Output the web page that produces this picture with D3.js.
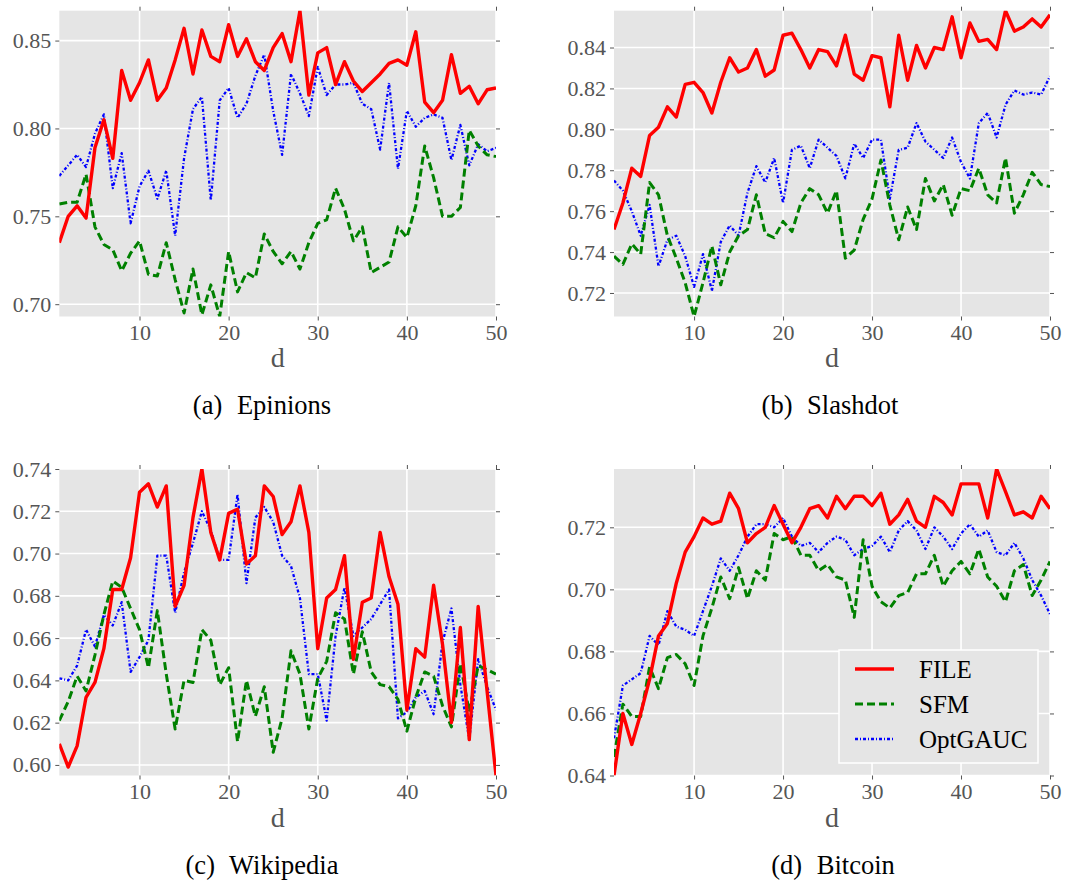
<!DOCTYPE html>
<html>
<head>
<meta charset="utf-8">
<script src="https://cdn.jsdelivr.net/npm/d3@7"></script>
<style>
  html, body { margin: 0; padding: 0; background: #ffffff; }
  svg { display: block; }
</style>
</head>
<body>
<svg id="chart" width="1068" height="881"></svg>
<script>
// Embedding dimension d on the x axis
const dValues = [1,2,3,4,5,6,7,8,9,10,11,12,13,14,15,16,17,18,19,20,21,22,23,24,25,
                 26,27,28,29,30,31,32,33,34,35,36,37,38,39,40,41,42,43,44,45,46,47,48,49,50];
const xTicks = [10, 20, 30, 40, 50];

const methods = ["FILE", "SFM", "OptGAUC"];

// (a) Epinions
const epinionsFILE = [0.735,0.750,0.756,0.749,0.789,0.805,0.783,0.833,0.816,0.826,0.839,0.816,0.823,0.839,0.857,0.831,0.856,0.841,0.838,0.859,0.841,0.851,0.838,0.833,0.846,0.854,0.838,0.867,0.819,0.843,0.846,0.825,0.838,0.827,0.821,0.826,0.831,0.837,0.839,0.836,0.855,0.815,0.809,0.816,0.842,0.820,0.824,0.814,0.822,0.823];
const epinionsSFM = [0.757,0.758,0.758,0.774,0.744,0.734,0.731,0.719,0.729,0.736,0.717,0.716,0.735,0.714,0.695,0.720,0.694,0.711,0.693,0.730,0.707,0.718,0.715,0.740,0.730,0.723,0.730,0.720,0.735,0.746,0.748,0.766,0.754,0.736,0.744,0.718,0.721,0.724,0.744,0.738,0.756,0.790,0.772,0.750,0.750,0.755,0.799,0.790,0.785,0.784];
const epinionsOptGAUC = [0.773,0.779,0.785,0.778,0.797,0.808,0.766,0.786,0.746,0.767,0.776,0.760,0.776,0.739,0.783,0.811,0.818,0.759,0.816,0.823,0.806,0.814,0.830,0.842,0.810,0.785,0.831,0.820,0.807,0.835,0.819,0.825,0.825,0.826,0.814,0.811,0.788,0.826,0.777,0.810,0.801,0.806,0.808,0.806,0.782,0.802,0.779,0.791,0.787,0.789];
const epinionsTicks = [0.70, 0.75, 0.80, 0.85];

// (b) Slashdot
const slashdotFILE = [0.751,0.764,0.781,0.777,0.797,0.801,0.811,0.806,0.822,0.823,0.818,0.808,0.823,0.835,0.828,0.830,0.839,0.826,0.829,0.846,0.847,0.839,0.830,0.839,0.838,0.831,0.846,0.827,0.824,0.836,0.835,0.811,0.846,0.824,0.841,0.830,0.840,0.839,0.855,0.835,0.852,0.843,0.844,0.839,0.858,0.848,0.850,0.854,0.850,0.856];
const slashdotSFM = [0.738,0.734,0.744,0.739,0.774,0.768,0.748,0.737,0.725,0.7085,0.725,0.743,0.724,0.740,0.748,0.751,0.768,0.749,0.747,0.755,0.750,0.764,0.771,0.768,0.759,0.770,0.737,0.741,0.756,0.766,0.785,0.763,0.746,0.762,0.751,0.776,0.765,0.773,0.758,0.771,0.770,0.781,0.768,0.764,0.786,0.759,0.768,0.779,0.773,0.772];
const slashdotOptGAUC = [0.775,0.770,0.760,0.748,0.763,0.733,0.746,0.748,0.738,0.723,0.739,0.721,0.745,0.753,0.748,0.769,0.782,0.774,0.786,0.764,0.790,0.792,0.781,0.795,0.791,0.787,0.776,0.793,0.786,0.795,0.795,0.766,0.790,0.791,0.803,0.794,0.790,0.786,0.796,0.784,0.776,0.803,0.808,0.796,0.812,0.819,0.817,0.818,0.817,0.826];
const slashdotTicks = [0.72, 0.74, 0.76, 0.78, 0.80, 0.82, 0.84];

// (c) Wikipedia
const wikipediaFILE = [0.610,0.599,0.609,0.632,0.639,0.655,0.683,0.683,0.698,0.729,0.733,0.722,0.732,0.675,0.685,0.717,0.740,0.710,0.697,0.719,0.721,0.695,0.699,0.732,0.727,0.709,0.715,0.732,0.710,0.655,0.679,0.683,0.699,0.650,0.677,0.679,0.710,0.689,0.676,0.626,0.655,0.651,0.685,0.657,0.620,0.665,0.612,0.675,0.635,0.595];
const wikipediaSFM = [0.621,0.630,0.642,0.635,0.652,0.671,0.687,0.684,0.674,0.664,0.646,0.673,0.643,0.617,0.640,0.639,0.664,0.659,0.638,0.646,0.611,0.640,0.623,0.637,0.606,0.622,0.654,0.643,0.617,0.641,0.649,0.672,0.669,0.643,0.663,0.644,0.638,0.637,0.631,0.616,0.632,0.644,0.642,0.628,0.618,0.648,0.625,0.647,0.645,0.643];
const wikipediaOptGAUC = [0.641,0.640,0.647,0.664,0.656,0.671,0.666,0.677,0.644,0.651,0.659,0.699,0.699,0.672,0.691,0.705,0.720,0.711,0.697,0.697,0.728,0.686,0.717,0.722,0.715,0.699,0.694,0.679,0.643,0.643,0.621,0.661,0.684,0.661,0.665,0.669,0.676,0.683,0.622,0.625,0.632,0.635,0.624,0.658,0.674,0.638,0.612,0.650,0.637,0.626];
const wikipediaTicks = [0.60, 0.62, 0.64, 0.66, 0.68, 0.70, 0.72, 0.74];

// (d) Bitcoin
const bitcoinFILE = [0.640,0.660,0.650,0.660,0.671,0.685,0.689,0.702,0.712,0.717,0.723,0.721,0.722,0.731,0.726,0.715,0.718,0.720,0.727,0.721,0.715,0.720,0.726,0.727,0.723,0.730,0.726,0.730,0.730,0.727,0.731,0.721,0.724,0.729,0.722,0.720,0.730,0.728,0.724,0.734,0.734,0.734,0.723,0.7388,0.7315,0.724,0.725,0.723,0.730,0.726];
const bitcoinSFM = [0.646,0.663,0.659,0.659,0.675,0.668,0.678,0.679,0.676,0.669,0.685,0.694,0.704,0.697,0.707,0.697,0.706,0.703,0.718,0.716,0.717,0.711,0.711,0.706,0.708,0.704,0.703,0.691,0.716,0.701,0.696,0.694,0.698,0.699,0.705,0.705,0.711,0.701,0.706,0.709,0.705,0.713,0.704,0.701,0.696,0.706,0.708,0.698,0.703,0.709];
const bitcoinOptGAUC = [0.652,0.669,0.671,0.673,0.685,0.682,0.693,0.688,0.687,0.685,0.693,0.701,0.710,0.706,0.711,0.717,0.721,0.721,0.720,0.723,0.717,0.714,0.715,0.712,0.715,0.717,0.716,0.711,0.713,0.714,0.717,0.712,0.719,0.722,0.719,0.713,0.720,0.717,0.713,0.718,0.721,0.717,0.719,0.712,0.711,0.715,0.710,0.703,0.698,0.692];
const bitcoinTicks = [0.64, 0.66, 0.68, 0.70, 0.72];

const datasetLabels = ["(a)", "(b)", "(c)", "(d)"];
const datasetNames = ["Epinions", "Slashdot", "Wikipedia", "Bitcoin"];

// ---------------------------------------------------------------------------
const panels = [
  { series: [epinionsFILE, epinionsSFM, epinionsOptGAUC], ticks: epinionsTicks },
  { series: [slashdotFILE, slashdotSFM, slashdotOptGAUC], ticks: slashdotTicks },
  { series: [wikipediaFILE, wikipediaSFM, wikipediaOptGAUC], ticks: wikipediaTicks },
  { series: [bitcoinFILE, bitcoinSFM, bitcoinOptGAUC], ticks: bitcoinTicks }
];

// plotting frame of each subplot and the centre of its caption (pixels)
const frames = [
  { left: 59.3, right: 496,  top: 10.7, bottom: 316.5, captionX: 262 },
  { left: 614,  right: 1050, top: 10.7, bottom: 316.5, captionX: 830 },
  { left: 59.3, right: 496,  top: 469,  bottom: 775.5, captionX: 262 },
  { left: 614,  right: 1050, top: 469,  bottom: 775.5, captionX: 833 }
];

const lineStyle = {
  FILE:    { color: "#ff0000", width: 3.4, dash: null },
  SFM:     { color: "#008000", width: 3.0, dash: "8,4" },
  OptGAUC: { color: "#0000ff", width: 2.3, dash: "3,2,1,2" }
};

const serif = "'Liberation Serif', 'Times New Roman', serif";
const axisGray = "#555555";

const svg = d3.select("#chart");

panels.forEach((p, i) => {
  const f = frames[i];
  const w = f.right - f.left, h = f.bottom - f.top;
  const all = p.series.flat();
  const x = d3.scaleLinear().domain(d3.extent(dValues)).range([0, w]);
  const y = d3.scaleLinear().domain(d3.extent(all)).range([h, 0]);

  const g = svg.append("g").attr("transform", `translate(${f.left},${f.top})`);

  // background
  g.append("rect").attr("width", w).attr("height", h).attr("fill", "#e5e5e5");

  // grid
  g.append("g").selectAll("line").data(xTicks).join("line")
    .attr("x1", d => x(d)).attr("x2", d => x(d)).attr("y1", 0).attr("y2", h)
    .attr("stroke", "#ffffff").attr("stroke-width", 1.6);
  g.append("g").selectAll("line").data(p.ticks).join("line")
    .attr("y1", d => y(d)).attr("y2", d => y(d)).attr("x1", 0).attr("x2", w)
    .attr("stroke", "#ffffff").attr("stroke-width", 1.6);

  // series
  const clipId = `clip-${i}`;
  g.append("clipPath").attr("id", clipId)
    .append("rect").attr("width", w).attr("height", h);
  const line = d3.line().x((d, k) => x(dValues[k])).y(d => y(d));
  const lines = g.append("g").attr("clip-path", `url(#${clipId})`);
  // draw OptGAUC first, then SFM, then FILE on top
  [2, 1, 0].forEach(m => {
    const st = lineStyle[methods[m]];
    lines.append("path")
      .datum(p.series[m])
      .attr("d", line)
      .attr("fill", "none")
      .attr("stroke", st.color)
      .attr("stroke-width", st.width)
      .attr("stroke-linejoin", "round")
      .attr("stroke-dasharray", st.dash);
  });

  // axes
  const fmt = d3.format(".2f");
  const styleAxis = sel => {
    sel.select(".domain").remove();
    sel.selectAll(".tick line").attr("stroke", axisGray).attr("stroke-width", 1);
    sel.selectAll(".tick text")
      .attr("fill", axisGray)
      .style("font-family", serif)
      .style("font-size", "22px");
  };
  g.append("g").attr("transform", `translate(0,${h})`)
    .call(d3.axisBottom(x).tickValues(xTicks).tickSize(4).tickPadding(4).tickFormat(d3.format("d")))
    .call(styleAxis);
  g.append("g")
    .call(d3.axisTop(x).tickValues(xTicks).tickSize(4).tickFormat(""))
    .call(styleAxis);
  g.append("g")
    .call(d3.axisLeft(y).tickValues(p.ticks).tickSize(4).tickPadding(4).tickFormat(fmt))
    .call(styleAxis);
  g.append("g").attr("transform", `translate(${w},0)`)
    .call(d3.axisRight(y).tickValues(p.ticks).tickSize(4).tickFormat(""))
    .call(styleAxis);

  // axis label
  g.append("text")
    .attr("x", w / 2).attr("y", h + 51)
    .attr("text-anchor", "middle")
    .attr("fill", axisGray)
    .style("font-family", serif).style("font-size", "28px")
    .text("d");

  // caption: "(x)" followed by the dataset name
  const cap = g.append("text")
    .attr("x", f.captionX - f.left).attr("y", h + 98)
    .attr("text-anchor", "middle")
    .attr("fill", "#000000")
    .style("font-family", serif).style("font-size", "26.5px");
  cap.append("tspan").text(datasetLabels[i]);
  cap.append("tspan").attr("dx", 8).text(" " + datasetNames[i]);

  // legend inside the last subplot
  if (i === 3) {
    const lg = g.append("g").attr("transform", `translate(${839 - f.left},${650 - f.top})`);
    lg.append("rect").attr("width", 199).attr("height", 113)
      .attr("fill", "#e5e5e5").attr("stroke", "#ffffff").attr("stroke-width", 1.5);
    methods.forEach((m, k) => {
      const st = lineStyle[m];
      const yy = 19 + k * 35;
      lg.append("line")
        .attr("x1", 16).attr("x2", 55).attr("y1", yy).attr("y2", yy)
        .attr("stroke", st.color).attr("stroke-width", st.width)
        .attr("stroke-dasharray", st.dash);
      lg.append("text")
        .attr("x", 80).attr("y", yy).attr("dy", "0.35em")
        .attr("fill", "#000000")
        .style("font-family", serif).style("font-size", "25px")
        .text(m);
    });
  }
});
</script>
</body>
</html>
